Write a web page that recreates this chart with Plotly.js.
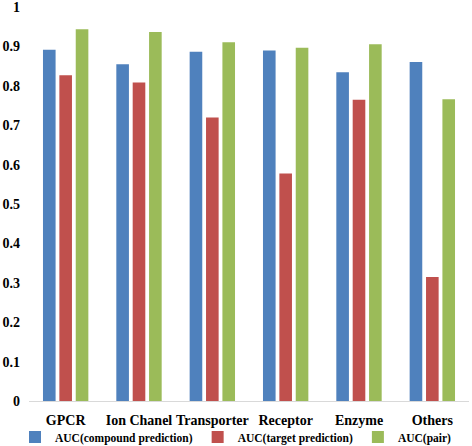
<!DOCTYPE html>
<html>
<head>
<meta charset="utf-8">
<script src="https://cdn.plot.ly/plotly-3.0.1.min.js"></script>
<style>html,body{margin:0;padding:0;background:#fff;}#chart{width:472px;height:446px;}</style>
</head>
<body>
<div id="chart"></div>
<script>
const categories = ["GPCR", "Ion Chanel", "Transporter", "Receptor", "Enzyme", "Others"];
const compoundAUC = [0.892, 0.855, 0.887, 0.890, 0.835, 0.861];
const targetAUC = [0.827, 0.809, 0.720, 0.578, 0.765, 0.315];
const pairAUC = [0.944, 0.937, 0.911, 0.897, 0.906, 0.766];
const seriesNames = ["AUC(compound prediction)", "AUC(target prediction)", "AUC(pair)"];
const yTicks = [0, 0.1, 0.2, 0.3, 0.4, 0.5, 0.6, 0.7, 0.8, 0.9, 1];
const colors = ["#4F81BD", "#C0504D", "#9BBB59"];

const values = [compoundAUC, targetAUC, pairAUC];
const data = values.map((v, i) => ({
  type: "bar",
  x: categories,
  y: v,
  name: seriesNames[i],
  marker: {color: colors[i]}
}));

const fam = "Liberation Serif";
const layout = {
  width: 472, height: 446,
  margin: {l: 29, r: 3, t: 7, b: 45, autoexpand: false},
  paper_bgcolor: "#fff", plot_bgcolor: "#fff",
  barmode: "group", bargap: 0.33, bargroupgap: 0.23,
  showlegend: true,
  legend: {orientation: "h", x: 0.5, xanchor: "center", xref: "container",
    y: 1 - 437 / 446, yref: "container", yanchor: "middle",
    bgcolor: "rgba(0,0,0,0)",
    font: {family: fam, size: 11.5, weight: "bold", color: "#000"}, itemwidth: 30, tracegroupgap: 0},
  xaxis: {showline: true, linecolor: "#d9d9d9", linewidth: 1, ticks: "", showgrid: false,
    ticklabelstandoff: 6,
    tickfont: {family: fam, size: 14, weight: "bold", color: "#000"}},
  yaxis: {range: [0, 1.0005], tickvals: yTicks, ticktext: yTicks.map(String), showgrid: false, zeroline: false,
    showline: false, ticks: "", ticklabeloverflow: "allow", ticklabelstandoff: 8,
    tickfont: {family: fam, size: 14, weight: "bold", color: "#000"}},
  font: {family: fam, color: "#000"}
};
Plotly.newPlot("chart", data, layout, {displayModeBar: false, staticPlot: true});
</script>
</body>
</html>
